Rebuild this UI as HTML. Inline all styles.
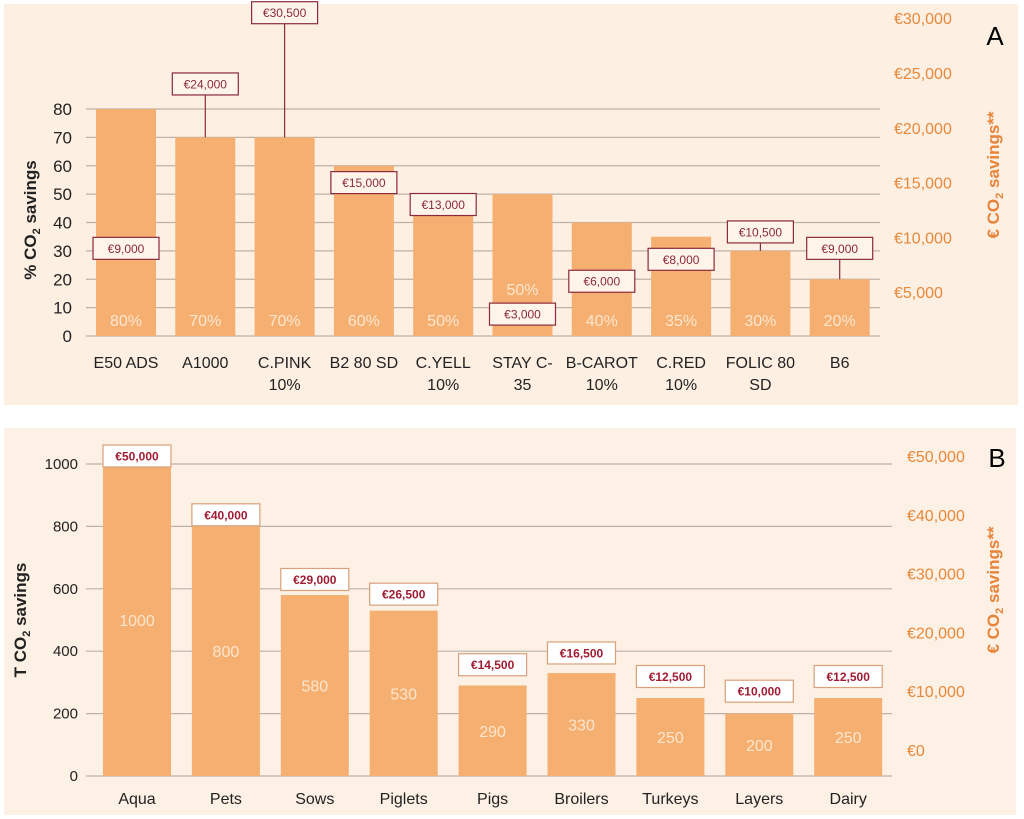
<!DOCTYPE html>
<html><head><meta charset="utf-8"><style>
body{margin:0;background:#fff;}
svg{display:block;font-family:"Liberation Sans",sans-serif;}
</style></head><body>
<svg id="svg" width="1024" height="819" viewBox="0 0 1024 819">
<rect x="4" y="4" width="1014" height="401" fill="#fdefe2"/>
<rect x="4" y="428" width="1012" height="387" fill="#fdf0e4"/>
<g id="A"></g>
<g id="B"></g>
<text x="995" y="45" font-size="26" fill="#000" text-anchor="middle">A</text>
<text x="997" y="467" font-size="26" fill="#000" text-anchor="middle">B</text>
<text transform="translate(36,220) rotate(-90)" font-size="17" font-weight="bold" fill="#222" text-anchor="middle">% CO<tspan font-size="11" dy="4">2</tspan><tspan dy="-4"> savings</tspan></text>
<text transform="translate(999,175) rotate(-90)" font-size="17" font-weight="bold" fill="#e8843a" text-anchor="middle">€ CO<tspan font-size="11" dy="4">2</tspan><tspan dy="-4"> savings**</tspan></text>
<text transform="translate(26,620) rotate(-90)" font-size="17" font-weight="bold" fill="#222" text-anchor="middle">T CO<tspan font-size="11" dy="4">2</tspan><tspan dy="-4"> savings</tspan></text>
<text transform="translate(999,590) rotate(-90)" font-size="17" font-weight="bold" fill="#e8843a" text-anchor="middle">€ CO<tspan font-size="11" dy="4">2</tspan><tspan dy="-4"> savings**</tspan></text>
</svg>
<script>
const catsA = [["E50 ADS"],["A1000"],["C.PINK","10%"],["B2 80 SD"],["C.YELL","10%"],["STAY  C-","35"],["B-CAROT","10%"],["C.RED","10%"],["FOLIC 80","SD"],["B6"]];
const pctA = [80,70,70,60,50,50,40,35,30,20];
const eurA = [9000,24000,30500,15000,13000,3000,6000,8000,10500,9000];
const leftTicksA = [0,10,20,30,40,50,60,70,80];
const rightTicksA = [5000,10000,15000,20000,25000,30000];

const catsB = ["Aqua","Pets","Sows","Piglets","Pigs","Broilers","Turkeys","Layers","Dairy"];
const tonB = [1000,800,580,530,290,330,250,200,250];
const eurB = [50000,40000,29000,26500,14500,16500,12500,10000,12500];
const leftTicksB = [0,200,400,600,800,1000];
const rightTicksB = [0,10000,20000,30000,40000,50000];

const NS="http://www.w3.org/2000/svg";
function mk(p,t,a,txt){const e=document.createElementNS(NS,t);for(const k in a)e.setAttribute(k,a[k]);if(txt!==undefined)e.textContent=txt;p.appendChild(e);return e;}
const fmt=v=>"€"+v.toLocaleString("en-US");

// Panel A
const A=document.getElementById("A");
const yA=v=>336-v*(227/80);
const rA=v=>347-v*(54.8/5000);
const xA=i=>126+i*79.3;
leftTicksA.forEach(t=>{
 const l=mk(A,"line",{x1:86,x2:880,y1:yA(t),y2:yA(t),stroke:"#bdb2aa","stroke-width":1.2});
 
 
 const tx=mk(A,"text",{x:72,y:yA(t)+6,"font-size":17,fill:"#222","text-anchor":"end"},t);
 
 
});
rightTicksA.forEach(t=>{
 const tx=mk(A,"text",{x:894,y:rA(t)+6,"font-size":16,fill:"#e8883a"},fmt(t));
 
 
});
pctA.forEach((v,i)=>{
 const cx=xA(i);
 const b=mk(A,"rect",{x:cx-30,y:yA(v),width:60,height:yA(0)-yA(v),fill:"#f5b071"});
 
 
 const by=rA(eurA[i]);
 const boxOverLabel = by>305;
 const pt=mk(A,"text",{x:cx,y:boxOverLabel?295:326,"font-size":16,fill:"#fde6cf","text-anchor":"middle"},v+"%");
 
 
 if(by+11<yA(v)){
  const ln=mk(A,"line",{x1:cx,x2:cx,y1:by+11,y2:yA(v),stroke:"#8b2a3a","stroke-width":1.2});
  
  
 }
 const bx=mk(A,"rect",{x:cx-33,y:by-11,width:66,height:22,fill:"#fff4ea",stroke:"#8b2a3a","stroke-width":1.2});
 
 
 const et=mk(A,"text",{x:cx,y:by+4.5,"font-size":12,fill:"#8b2a3a","text-anchor":"middle"},fmt(eurA[i]));
 
 
 catsA[i].forEach((s,j)=>{
  const c=mk(A,"text",{x:cx,y:368+j*22,"font-size":16,fill:"#222","text-anchor":"middle","xml:space":"preserve"},s);
  
  
 });
});

// Panel B
const B=document.getElementById("B");
const yB=v=>776-v*(312/1000);
const rB=v=>750-v*(294/50000);
const xB=i=>137+i*88.9;
leftTicksB.forEach(t=>{
 const l=mk(B,"line",{x1:86,x2:892,y1:yB(t),y2:yB(t),stroke:"#bdb2aa","stroke-width":1.2});
 
 
 const tx=mk(B,"text",{x:78,y:yB(t)+5,"font-size":15,fill:"#222","text-anchor":"end"},t);
 
 
});
rightTicksB.forEach(t=>{
 const tx=mk(B,"text",{x:907,y:rB(t)+6,"font-size":16,fill:"#e8883a"},fmt(t));
 
 
});
tonB.forEach((v,i)=>{
 const cx=xB(i);
 const b=mk(B,"rect",{x:cx-34,y:yB(v),width:68,height:yB(0)-yB(v),fill:"#f5b071"});
 
 
 const vt=mk(B,"text",{x:cx,y:(yB(v)+yB(0))/2+6,"font-size":16,fill:"#fde6cf","text-anchor":"middle"},v);
 
 
 const by=rB(eurB[i]);
 const bx=mk(B,"rect",{x:cx-34,y:by-11,width:68,height:22,fill:"#ffffff",stroke:"#d9a07a","stroke-width":1.2});
 
 
 const et=mk(B,"text",{x:cx,y:by+4.5,"font-size":12,"font-weight":"bold",fill:"#a01c32","text-anchor":"middle"},fmt(eurB[i]));
 
 
 const c=mk(B,"text",{x:cx,y:804,"font-size":16,fill:"#222","text-anchor":"middle"},catsB[i]);
 
 
});
</script>
</body></html>
